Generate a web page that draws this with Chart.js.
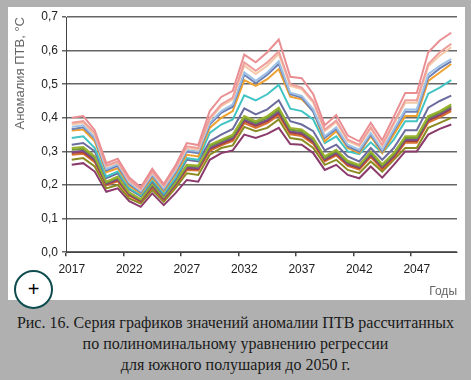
<!DOCTYPE html>
<html lang="ru">
<head>
<meta charset="utf-8">
<title>Аномалия ПТВ</title>
<script src="https://cdn.jsdelivr.net/npm/chart.js@4"></script>
<style>
    html, body { margin: 0; padding: 0; }
    body { width: 471px; height: 380px; background: #b0b0b0; position: relative; overflow: hidden; }
    #panel { position: absolute; left: 8px; top: 7px; width: 457px; height: 293px; background: #fff; }
    #wrap { position: absolute; left: 0; top: 0; width: 471px; height: 300px; }
    #plus { position: absolute; left: 14px; top: 270px; width: 35px; height: 35px; border: 2px solid #0f4c4f; border-radius: 50%;
            background: #fff; color: #000; font: 20px/35px "Liberation Sans", sans-serif; text-align: center; }
    #caption { position: absolute; left: 0; top: 312px; width: 471px; text-align: center; color: #1a1a1a;
               font: 16px/21px "Liberation Serif", serif; }
</style>
</head>
<body>
<div id="panel"></div>
<div id="wrap"><canvas id="chart" width="471" height="300"></canvas></div>
<div id="plus">+</div>
<div id="caption">Рис. 16. Серия графиков значений аномалии ПТВ рассчитанных<br>по полиноминальному уравнению регрессии<br>для южного полушария до 2050 г.</div>
<script>
// Years and y ticks
var years = [2017,2018,2019,2020,2021,2022,2023,2024,2025,2026,2027,2028,2029,2030,2031,2032,2033,2034,2035,2036,2037,2038,2039,2040,2041,2042,2043,2044,2045,2046,2047,2048,2049,2050];
var yTickLabels = ['0,0','0,1','0,2','0,3','0,4','0,5','0,6','0,7'];

// Values, one array per line, top to bottom
var pinkTop   = [.400,.405,.363,.265,.278,.222,.193,.248,.203,.257,.325,.319,.420,.462,.480,.588,.565,.595,.633,.522,.518,.470,.378,.408,.347,.330,.385,.333,.403,.474,.474,.595,.630,.653];
var pink      = [.385,.390,.355,.258,.270,.215,.188,.240,.198,.250,.315,.310,.400,.440,.460,.565,.540,.565,.598,.500,.490,.450,.365,.392,.335,.320,.372,.320,.385,.452,.452,.560,.595,.620];
var peach     = [.380,.385,.350,.255,.267,.212,.186,.237,.195,.247,.310,.305,.395,.435,.455,.555,.530,.555,.590,.495,.485,.445,.360,.387,.330,.316,.368,.316,.380,.445,.445,.553,.585,.610];
var lightBlue = [.373,.378,.342,.248,.262,.207,.182,.232,.190,.240,.305,.300,.385,.420,.440,.535,.510,.535,.568,.475,.465,.425,.345,.372,.320,.305,.355,.305,.365,.425,.425,.530,.555,.575];
var slate     = [.366,.372,.338,.243,.257,.203,.179,.228,.186,.236,.300,.295,.380,.415,.433,.528,.503,.528,.560,.470,.460,.418,.340,.367,.315,.300,.350,.300,.360,.418,.418,.520,.547,.568];
var orange    = [.362,.365,.330,.238,.250,.198,.175,.222,.182,.230,.290,.285,.370,.400,.420,.512,.495,.515,.545,.463,.455,.420,.330,.360,.310,.295,.345,.295,.350,.405,.405,.510,.535,.560];
var teal      = [.340,.345,.310,.225,.240,.190,.170,.215,.175,.220,.280,.275,.355,.380,.395,.467,.452,.470,.498,.427,.420,.395,.325,.345,.300,.292,.327,.295,.335,.390,.390,.472,.490,.512];
var purple    = [.320,.325,.300,.220,.235,.187,.167,.210,.170,.215,.275,.270,.330,.350,.367,.428,.410,.425,.452,.390,.380,.360,.303,.320,.285,.270,.310,.275,.310,.363,.363,.430,.450,.466];
var lime      = [.310,.313,.285,.210,.225,.178,.158,.205,.165,.208,.260,.258,.320,.335,.350,.405,.390,.405,.430,.370,.365,.340,.285,.305,.272,.260,.300,.262,.295,.345,.345,.405,.420,.440];
var green     = [.305,.308,.281,.207,.222,.176,.156,.202,.163,.205,.257,.255,.316,.331,.345,.400,.385,.400,.425,.365,.360,.336,.281,.301,.268,.257,.296,.258,.291,.340,.340,.400,.416,.435];
var violet    = [.298,.302,.276,.204,.218,.173,.154,.198,.160,.202,.252,.250,.310,.326,.340,.394,.380,.394,.418,.360,.355,.331,.277,.296,.264,.253,.291,.254,.287,.335,.335,.396,.411,.430];
var darkRed   = [.295,.298,.273,.202,.215,.171,.152,.196,.158,.200,.249,.247,.307,.322,.336,.390,.376,.390,.414,.356,.351,.327,.274,.293,.261,.250,.288,.251,.284,.331,.331,.392,.407,.426];
var burnt     = [.290,.293,.268,.199,.211,.168,.150,.193,.156,.197,.245,.243,.302,.318,.331,.384,.370,.384,.408,.351,.346,.322,.270,.288,.257,.246,.283,.247,.280,.326,.326,.386,.401,.420];
var olive     = [.275,.280,.255,.190,.200,.160,.145,.185,.150,.190,.235,.230,.290,.310,.318,.373,.360,.370,.395,.340,.335,.310,.260,.275,.245,.235,.270,.240,.275,.310,.310,.370,.385,.400];
var plum      = [.260,.265,.240,.180,.190,.152,.135,.175,.140,.175,.215,.210,.275,.295,.303,.350,.340,.352,.370,.322,.320,.295,.245,.260,.230,.220,.255,.222,.260,.300,.300,.350,.367,.380];

var seriesList = [pinkTop, pink, peach, lightBlue, slate, orange, teal, purple, lime, green, violet, darkRed, burnt, olive, plum];
var seriesColors = ['#e98f93','#ee9e9b','#f4c8a8','#9cc0e6','#6f80b4','#efa12f','#43c4c4','#6c6c9e','#9ab22f','#6f9a35','#7d4c8c','#a23f40','#d8722e','#8a8c22','#8b3a6c'];

var ctx = document.getElementById('chart').getContext('2d');
var chart = new Chart(ctx, {
    type: 'line',
    data: {
        labels: years,
        datasets: seriesList.map(function(values, i) {
            return {
                data: values,
                borderColor: seriesColors[i],
                borderWidth: 2,
                pointRadius: 0,
                tension: 0,
                fill: false
            };
        })
    },
    options: {
        responsive: false,
        animation: false,
        layout: { padding: { top: 17, right: 14, left: 0, bottom: 0 } },
        plugins: { legend: { display: false }, tooltip: { enabled: false } },
        scales: {
            x: {
                type: 'category',
                offset: true,
                border: { color: '#444', width: 1 },
                grid: {
                    offset: true,
                    lineWidth: 1.5,
                    tickLength: 4,
                    color: function(c) { return c.index === years.length ? '#666' : 'transparent'; },
                    tickColor: function(c) { return c.index % 5 === 0 ? '#444' : 'transparent'; }
                },
                ticks: {
                    autoSkip: false,
                    maxRotation: 0,
                    padding: 6,
                    color: '#222',
                    font: { family: '"Liberation Sans", Arial, sans-serif', size: 12 },
                    callback: function(value, index) { return index % 5 === 0 ? String(years[index]) : ''; }
                },
                title: {
                    display: true,
                    text: 'Годы',
                    align: 'end',
                    color: '#666',
                    padding: { top: 2, bottom: 1 },
                    font: { family: '"Liberation Sans", Arial, sans-serif', size: 12 }
                }
            },
            y: {
                min: 0,
                max: 0.7,
                border: { color: '#444', width: 1 },
                grid: { color: '#666', lineWidth: 1.5, tickLength: 4 },
                ticks: {
                    stepSize: 0.1,
                    padding: 4,
                    color: '#222',
                    font: { family: '"Liberation Sans", Arial, sans-serif', size: 12 },
                    callback: function(value) { return yTickLabels[Math.round(value * 10)]; }
                },
                title: {
                    display: true,
                    text: 'Аномалия ПТВ, °С',
                    align: 'end',
                    color: '#666',
                    padding: { top: 13, bottom: 0 },
                    font: { family: '"Liberation Sans", Arial, sans-serif', size: 13 }
                },
                afterFit: function(scale) { scale.width = 66; }
            }
        }
    }
});
</script>
</body>
</html>
